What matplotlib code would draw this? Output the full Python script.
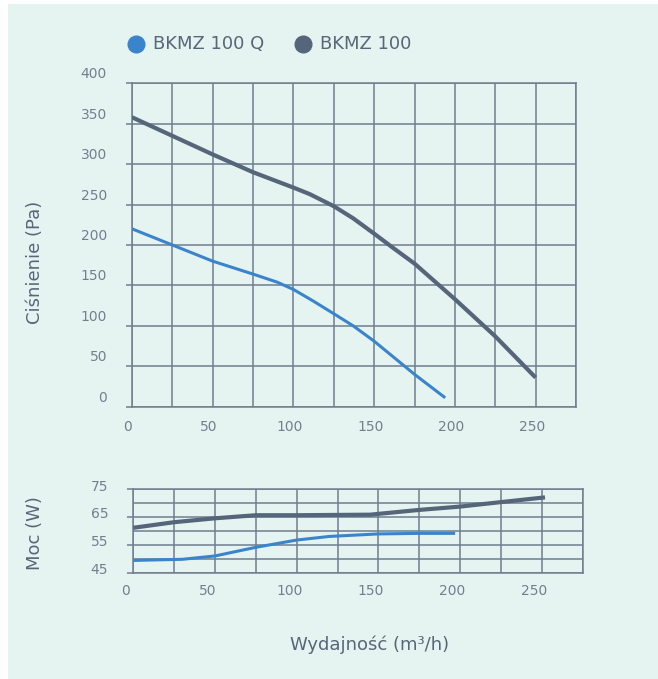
import matplotlib
matplotlib.use("Agg")
import matplotlib.pyplot as plt
from matplotlib.patches import Rectangle
from matplotlib.lines import Line2D
from matplotlib.transforms import ScaledTranslation

# ---------------- data ----------------
series_names = ["BKMZ 100 Q", "BKMZ 100"]

# pressure curves (Pa) vs airflow (m3/h)
q_flow = [0, 25, 50, 75, 90, 100, 112, 125, 137, 150, 175, 194]
q_pressure = [220, 200, 180, 164, 154, 145, 131, 115, 100, 81, 40, 11]

s_flow = [0, 25, 50, 75, 100, 110, 125, 137, 150, 162, 175, 200, 225, 250]
s_pressure = [358, 335, 312, 290, 271, 263, 248, 233, 214, 196, 177, 133, 87, 36]

# power curves (W) vs airflow
q_pflow = [0, 30, 50, 75, 100, 120, 150, 175, 197]
q_power = [49.4, 49.8, 51.0, 54.1, 56.7, 58.0, 58.9, 59.1, 59.1]

s_pflow = [0, 25, 50, 75, 100, 145, 175, 200, 225, 252]
s_power = [61.1, 63.1, 64.5, 65.6, 65.6, 65.8, 67.5, 68.7, 70.3, 72.0]

x_ticks = [0, 50, 100, 150, 200, 250]
p_ticks = [0, 50, 100, 150, 200, 250, 300, 350, 400]
w_ticks = [45, 55, 65, 75]

x_label = "Wydajność (m³/h)"
p_label = "Ciśnienie (Pa)"
w_label = "Moc (W)"

# ---------------- style ----------------
BLUE = "#3a84cc"
DARK = "#56667a"
GRID = "#6e7e8f"
TICKC = "#718090"
TITLEC = "#56677a"
PANEL = "#e5f4f1"
FONT = "DejaVu Sans"

W, H = 658, 679
fig = plt.figure(figsize=(W / 100, H / 100), dpi=100, facecolor="white")
fig.patches.append(Rectangle((8 / W, 0), 1 - 8 / W, 1 - 4 / H, transform=fig.transFigure,
                             facecolor=PANEL, edgecolor="none", zorder=-10))


def px(dx, dy):
    return ScaledTranslation(dx / 100, dy / 100, fig.dpi_scale_trans)


def style_axes(ax, xlim, ylim, xgrid, ygrid, yticks, ylab_dy, xlab_dx, xlab_dy):
    ax.set_facecolor("none")
    ax.set_xlim(*xlim)
    ax.set_ylim(*ylim)
    ax.set_xticks(xgrid)
    ax.set_yticks(ygrid, minor=True)
    ax.set_yticks(yticks)
    ax.grid(True, which="both", color=GRID, linewidth=1.1, zorder=1)
    ax.set_axisbelow(True)
    for s in ax.spines.values():
        s.set_color(GRID)
        s.set_linewidth(1.1)
    ax.tick_params(axis="x", length=0, labelbottom=False)
    ax.tick_params(axis="y", which="major", length=4, width=1.1, color=GRID, labelleft=False)
    ax.tick_params(axis="y", which="minor", length=0)
    for v in yticks:
        ax.text(0, v, str(v), transform=ax.get_yaxis_transform() + px(-25, ylab_dy),
                ha="right", va="center", fontsize=10, color=TICKC, family=FONT)
    for v in x_ticks:
        ax.text(v, 0, str(v), transform=ax.get_xaxis_transform() + px(xlab_dx, xlab_dy),
                ha="center", va="center", fontsize=10, color=TICKC, family=FONT)


# top axes: pressure
ax1 = fig.add_axes([132 / W, 1 - 406.7 / H, 444 / W, 323.4 / H])
style_axes(ax1, (0, 275), (0, 400), list(range(0, 276, 25)), p_ticks, p_ticks, 9, -4, -20.5)
ax1.plot(s_flow, s_pressure, color=DARK, linewidth=3.0, solid_capstyle="butt",
         solid_joinstyle="round", zorder=3)
ax1.plot(q_flow, q_pressure, color=BLUE, linewidth=2.2, solid_capstyle="butt",
         solid_joinstyle="round", zorder=3)

# bottom axes: power
ax2 = fig.add_axes([133.3 / W, 1 - 572.7 / H, 449.3 / W, 83.7 / H])
style_axes(ax2, (0, 275), (45, 75), list(range(0, 276, 25)), list(range(45, 76, 5)), w_ticks, 2.5, -7.5, -18)
ax2.plot(s_pflow, s_power, color=DARK, linewidth=3.0, solid_capstyle="butt",
         solid_joinstyle="round", zorder=3)
ax2.plot(q_pflow, q_power, color=BLUE, linewidth=2.2, solid_capstyle="butt",
         solid_joinstyle="round", zorder=3)

# axis titles
fig.text(35 / W, 1 - 262 / H, p_label, rotation=90, ha="center", va="center",
         fontsize=13, color=TITLEC, family=FONT)
fig.text(35 / W, 1 - 533 / H, w_label, rotation=90, ha="center", va="center",
         fontsize=13, color=TITLEC, family=FONT)
fig.text(370 / W, 1 - 645 / H, x_label, ha="center", va="center",
         fontsize=13, color=TITLEC, family=FONT)

# legend
for name, col, cx in zip(series_names, [BLUE, DARK], [136, 303]):
    fig.add_artist(Line2D([cx / W], [1 - 44 / H], transform=fig.transFigure, marker="o",
                          markersize=12, color=col, linestyle="none"))
    fig.text((cx + 17) / W, 1 - 44 / H, name, ha="left", va="center",
             fontsize=13, color=TITLEC, family=FONT)

fig.savefig("out.png", dpi=100, facecolor=fig.get_facecolor())
